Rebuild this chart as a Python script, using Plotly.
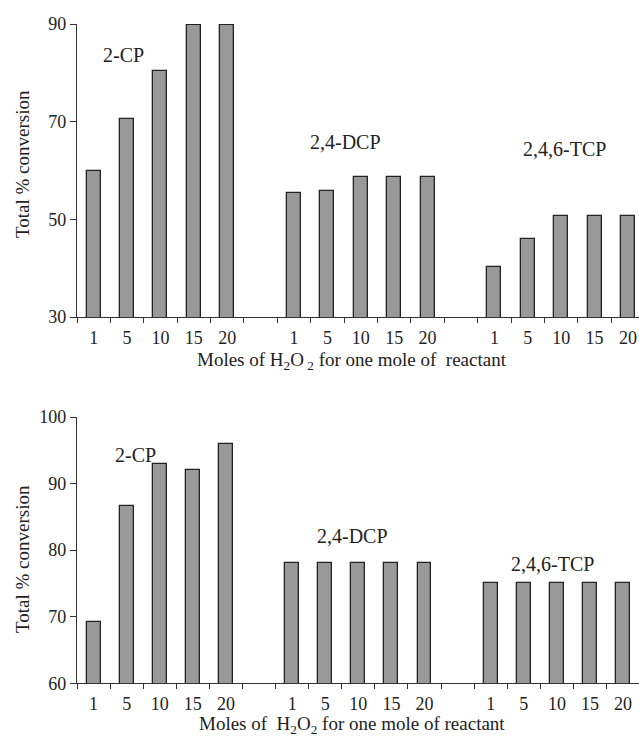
import plotly.graph_objects as go

groups = ["2-CP", "2,4-DCP", "2,4,6-TCP"]
ratios = ["1", "5", "10", "15", "20"]

top_cp = [60.0, 70.5, 80.3, 89.8, 89.8]
top_dcp = [55.3, 55.8, 58.6, 58.6, 58.6]
top_tcp = [40.3, 45.9, 50.7, 50.7, 50.7]

bot_cp = [69.2, 86.7, 92.9, 92.1, 96.0]
bot_dcp = [78.1, 78.1, 78.1, 78.1, 78.1]
bot_tcp = [75.0, 75.0, 75.0, 75.0, 75.0]

top_ticks = [30, 50, 70, 90]
bot_ticks = [60, 70, 80, 90, 100]

FONT = "Liberation Serif, Times New Roman, serif"
W, H = 639, 737
L = 77
PW = W - L

# category positions: 5 bars per group, one empty slot between groups
pos = []
labels = []
for g in range(3):
    for i, r in enumerate(ratios):
        pos.append(g * 6 + i)
        labels.append(r)

top_vals = top_cp + top_dcp + top_tcp
bot_vals = bot_cp + bot_dcp + bot_tcp

fig = go.Figure()
bar_style = dict(marker=dict(color="#999999", line=dict(color="#222222", width=1.3)),
                 width=0.42, showlegend=False, hoverinfo="skip")
fig.add_trace(go.Bar(x=pos, y=top_vals, xaxis="x", yaxis="y", **bar_style))
fig.add_trace(go.Bar(x=pos, y=bot_vals, xaxis="x2", yaxis="y2", **bar_style))

def ydom(top_px, bot_px):
    return [1 - bot_px / H, 1 - top_px / H]

def px(xp):
    return (xp - L) / PW

axis_common = dict(showline=True, linecolor="#333333", linewidth=1.3, showgrid=False,
                   zeroline=False, automargin=False,
                   tickfont=dict(family=FONT, size=18, color="#222222"))

xcommon = dict(axis_common, tickmode="array", tickvals=pos, ticktext=labels,
               ticks="outside", ticklen=4, tickcolor="rgba(0,0,0,0)",
               minor=dict(ticks="outside", ticklen=5, tickwidth=1.3, tickcolor="#333333",
                          tick0=-0.5, dtick=1, showgrid=False))

fig.update_layout(
    width=W, height=H,
    margin=dict(l=L, r=0, t=0, b=0, pad=0, autoexpand=False),
    paper_bgcolor="white", plot_bgcolor="white",
    bargap=0,
    xaxis=dict(xcommon, domain=[0, 1], range=[-0.5, 16.33], anchor="y"),
    yaxis=dict(axis_common, domain=ydom(24, 317), range=[30, 90], tickvals=top_ticks,
               ticks="outside", ticklen=6, tickwidth=1.3, tickcolor="#333333", anchor="x"),
    xaxis2=dict(xcommon, domain=[0, 1], range=[-0.5, 16.48], anchor="y2"),
    yaxis2=dict(axis_common, domain=ydom(417, 683.3), range=[60, 100], tickvals=bot_ticks,
                ticks="outside", ticklen=6, tickwidth=1.3, tickcolor="#333333", anchor="x2"),
)

ann_font = dict(family=FONT, size=20, color="#222222")
title_font = dict(family=FONT, size=19, color="#222222")

top_lbl = [(0.88, 83.6), (7.55, 65.8), (14.11, 64.3)]
bot_lbl = [(1.27, 94.3), (7.82, 82.2), (13.88, 77.9)]
for name, (x, y) in zip(groups, top_lbl):
    fig.add_annotation(x=x, y=y, xref="x", yref="y", text=name, showarrow=False, font=ann_font)
for name, (x, y) in zip(groups, bot_lbl):
    fig.add_annotation(x=x, y=y, xref="x2", yref="y2", text=name, showarrow=False, font=ann_font)

fig.add_annotation(x=px(352), y=1 - 361 / H, xref="paper", yref="paper", showarrow=False,
                   text="Moles of H<sub>2</sub>O<sub> 2</sub> for one mole of&nbsp; reactant",
                   font=title_font, xanchor="center", yanchor="middle")
fig.add_annotation(x=px(352), y=1 - 725 / H, xref="paper", yref="paper", showarrow=False,
                   text="Moles of&nbsp; H<sub>2</sub>O<sub>2</sub> for one mole of reactant",
                   font=title_font, xanchor="center", yanchor="middle")
fig.add_annotation(x=px(22), y=1 - 164 / H, xref="paper", yref="paper", showarrow=False,
                   text="Total % conversion", textangle=-90, font=title_font,
                   xanchor="center", yanchor="middle")
fig.add_annotation(x=px(22), y=1 - 559 / H, xref="paper", yref="paper", showarrow=False,
                   text="Total % conversion", textangle=-90, font=title_font,
                   xanchor="center", yanchor="middle")

fig.write_html("out.html")
